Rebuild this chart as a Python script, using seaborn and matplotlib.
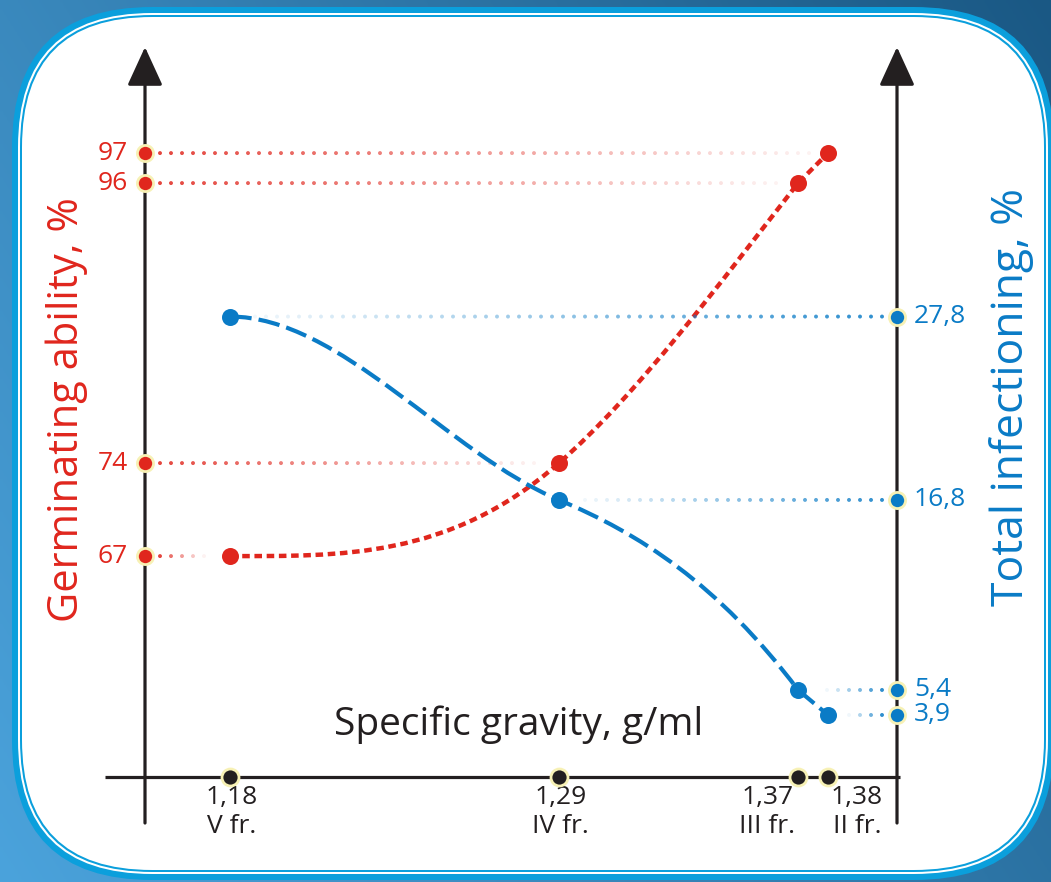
import numpy as np
import matplotlib
matplotlib.use("Agg")
import matplotlib.pyplot as plt
from matplotlib.patches import FancyBboxPatch, PathPatch
from matplotlib.path import Path
import matplotlib.colors as mcolors
import seaborn as sns

# data
gravity = [1.18, 1.29, 1.37, 1.38]
gravity_labels = ["1,18\nV fr.", "1,29\nIV fr.", "1,37\nIII fr.", "1,38\nII fr."]
germination = [67, 74, 96, 97]
germination_labels = ["67", "74", "96", "97"]
infection = [27.8, 16.8, 5.4, 3.9]
infection_labels = ["27,8", "16,8", "5,4", "3,9"]

RED = "#e0261d"
BLUE = "#0a7bc6"
INK = "#231f20"
HALO = "#f7f1b5"
BAND = "#0b9fdc"

sns.set_theme(style="white")
plt.rcParams["font.family"] = ["Open Sans", "DejaVu Sans"]

fig = plt.figure(figsize=(10.51, 8.82), dpi=100)

# background gradient + rounded white panel (pixel coords)
bg = fig.add_axes([0, 0, 1, 1])
bg.set_xlim(0, 1051)
bg.set_ylim(0, 882)
bg.axis("off")
gx, gy = np.meshgrid(np.linspace(0, 1, 300), np.linspace(0, 1, 300))
t = 0.65 * gx + 0.35 * gy
light = np.array(mcolors.to_rgb("#4ba3dc"))
dark = np.array(mcolors.to_rgb("#1a5884"))
img = light[None, None, :] * (1 - t[..., None]) + dark[None, None, :] * t[..., None]
bg.imshow(img, extent=[0, 1051, 0, 882], origin="lower", aspect="auto")
for inset, col in [(0, BAND), (6, "white"), (8, BAND), (10, "white")]:
    bg.add_patch(FancyBboxPatch((12 + inset, 2 + inset), 1042 - 2 * inset, 873 - 2 * inset,
                                boxstyle=f"round,pad=0,rounding_size={140 - inset}",
                                fc=col, ec="none"))

# the germination axis in the original is not to scale: piecewise linear scale
germ_knots = [30, 67, 74, 96, 97, 130]
germ_height = [-271, 221, 314, 594, 624, 1063]


def germ_fwd(v):
    return np.interp(v, germ_knots, germ_height)


def germ_inv(h):
    return np.interp(h, germ_height, germ_knots)


# main axes: left axis = germination (red), twin = infection (blue)
ax = fig.add_axes([100 / 1051, 52 / 882, 840 / 1051, 790 / 882])
ax.set_xlim(1.13652, 1.41746)
ax.set_yscale("function", functions=(germ_fwd, germ_inv))
ax.set_ylim(46.40, 105.50)
ax.axis("off")
ax2 = ax.twinx()
ax2.set_ylim(-3.0, 44.39)
ax2.axis("off")

x_left, x_right = 1.15157, 1.40308
y_bottom, y_top, y_base = 46.925, 104.97, 50.383
px = 1 / 2990  # one pixel in x units

# axis lines with arrows
arrow = dict(arrowstyle="-|>,head_length=1.2,head_width=0.55", color=INK, lw=2.3,
             shrinkA=0, shrinkB=0, mutation_scale=20)
for xa in (x_left, x_right):
    ax.annotate("", xy=(xa, y_top), xytext=(xa, y_bottom), arrowprops=arrow,
                annotation_clip=False, zorder=2)
ax.plot([1.13819, 1.40408], [y_base, y_base], color=INK, lw=2.3, zorder=2,
        solid_capstyle="butt")


def smooth_path(xs, ys, bend=(1.0, 1.0), fwd=lambda v: v, inv=lambda v: v):
    # hand-drawn look: flat start, bezier handles scaled by `bend`,
    # straight last segment (built in scale space)
    xs = np.asarray(xs, float)
    ts = fwd(np.asarray(ys, float))
    h = np.diff(xs)
    d = np.diff(ts) / h
    m = np.zeros(len(xs))
    for i in range(1, len(xs) - 1):
        m[i] = (h[i] * d[i - 1] + h[i - 1] * d[i]) / (h[i - 1] + h[i])
    m_out = m.copy()
    m_in = m.copy()
    m_out[0] = 0.0
    m_in[1] = m_out[1] = m[1] * bend[0]
    m_in[2] = m[2] * bend[1]
    m_out[2] = m_in[3] = d[2]
    verts = [(xs[0], ys[0])]
    codes = [Path.MOVETO]
    for i in range(len(h)):
        c1 = inv(ts[i] + m_out[i] * h[i] / 3)
        c2 = inv(ts[i + 1] - m_in[i + 1] * h[i] / 3)
        verts += [(xs[i] + h[i] / 3, c1), (xs[i + 1] - h[i] / 3, c2), (xs[i + 1], ys[i + 1])]
        codes += [Path.CURVE4] * 3
    return Path(verts, codes)


# faded dotted guides
for g, v in zip(gravity, germination):
    xs = np.arange(x_left + 15 * px, g - 18 * px, 11 * px)
    cols = np.zeros((len(xs), 4))
    cols[:, :3] = mcolors.to_rgb(RED)
    cols[:, 3] = np.linspace(0.85, 0.06, len(xs))
    ax.scatter(xs, [v] * len(xs), s=8, c=cols, linewidths=0, zorder=3)
for g, v in zip(gravity, infection):
    xs = np.arange(x_right - 15 * px, g + 18 * px, -11 * px)
    cols = np.zeros((len(xs), 4))
    cols[:, :3] = mcolors.to_rgb(BLUE)
    cols[:, 3] = np.linspace(0.85, 0.06, len(xs))
    ax2.scatter(xs, [v] * len(xs), s=8, c=cols, linewidths=0, zorder=3)

# curves
red_line = PathPatch(smooth_path(gravity, germination, (1.1, 1.25), germ_fwd, germ_inv),
                     fc="none", ec=RED, lw=3.2, linestyle=(0, (1.7, 1.05)), zorder=4)
ax.add_patch(red_line)
blue_line = PathPatch(smooth_path(gravity, infection, (0.6, 1.6)), fc="none", ec=BLUE,
                      lw=3.0, linestyle=(0, (5.2, 1.7)), zorder=4)
ax2.add_patch(blue_line)

# points on curves
sns.scatterplot(x=gravity, y=germination, ax=ax, color=RED, s=150, linewidth=0, zorder=5)
sns.scatterplot(x=gravity, y=infection, ax=ax2, color=BLUE, s=150, linewidth=0, zorder=5)

# points on axes
sns.scatterplot(x=[x_left] * 4, y=germination, ax=ax, color=RED, s=135,
                edgecolor=HALO, linewidth=2.0, zorder=6)
sns.scatterplot(x=[x_right] * 4, y=infection, ax=ax2, color=BLUE, s=135,
                edgecolor=HALO, linewidth=2.0, zorder=6)
sns.scatterplot(x=gravity, y=[0.18] * 4, ax=ax2, color=INK, s=150,
                edgecolor=HALO, linewidth=2.0, zorder=6)

# tick labels
for v, lab in zip(germination, germination_labels):
    ax.text(x_left - 17 * px, v, lab, color=RED, fontsize=19, ha="right", va="center")
for v, lab in zip(infection, infection_labels):
    ax2.text(x_right + 17 * px, v, lab, color=BLUE, fontsize=19, ha="left", va="center")
for i, (g, lab) in enumerate(zip(gravity, gravity_labels)):
    ha, dx = "center", 1
    if i == 2:
        ha, dx = "right", -2
    elif i == 3:
        ha, dx = "left", 2
    ax2.annotate(lab, xy=(g, 0.18), xytext=(dx, -6), textcoords="offset points",
                 ha=ha, va="top", ma="center", fontsize=19, color=INK, linespacing=1.2,
                 annotation_clip=False)

ax2.text(1.2765, 3.3, "Specific gravity, g/ml", color=INK, fontsize=28,
         ha="center", va="center")
fig.text(67 / 1051, 1 - 410 / 882, "Germinating ability, %", color=RED, fontsize=30,
         rotation=90, ha="center", va="center")
fig.text(1012 / 1051, 1 - 397 / 882, "Total infectioning, %", color=BLUE, fontsize=32,
         rotation=90, ha="center", va="center")

fig.savefig("out.png", dpi=100)
